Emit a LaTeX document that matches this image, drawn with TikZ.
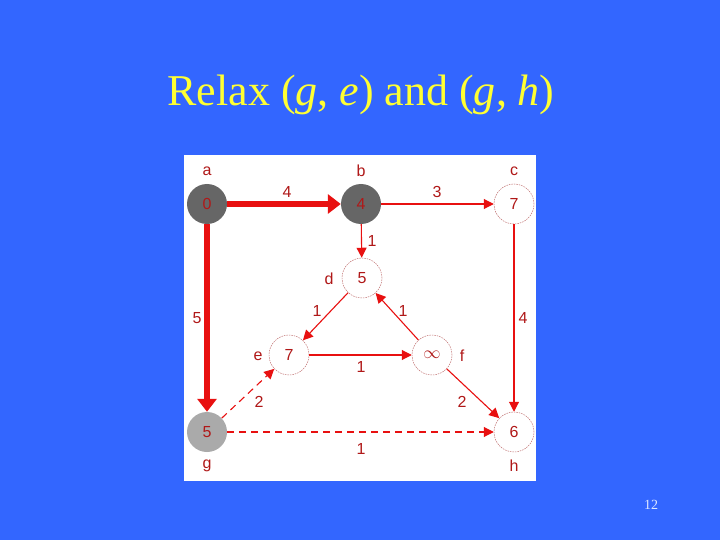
\documentclass[tikz,border=0pt]{standalone}
\usepackage{fontspec}
\setmainfont{Liberation Serif}
\newfontfamily\arial{Liberation Sans}
\usetikzlibrary{arrows.meta}
\definecolor{bgblue}{HTML}{3366FF}
\definecolor{ttl}{HTML}{FFFF33}
\definecolor{edgered}{HTML}{E81010}
\definecolor{txtred}{HTML}{B01818}
\definecolor{darkg}{HTML}{666666}
\definecolor{lightg}{HTML}{AAAAAA}
\definecolor{ringc}{HTML}{C07070}
\tikzset{
  vtx/.style={circle,minimum size=40pt,inner sep=0pt,font=\arial\fontsize{16}{16}\selectfont,text=txtred},
  vopen/.style={vtx,fill=white,draw=ringc,line width=0.5pt,dash pattern=on 1.5pt off 1pt},
  vdark/.style={vtx,fill=darkg},
  vlight/.style={vtx,fill=lightg},
  lbl/.style={font=\arial\fontsize{16}{16}\selectfont,text=txtred,inner sep=0pt},
  thin/.style={draw=edgered,line width=1.1pt,-{Triangle[length=10pt,width=10pt]}},
  thick/.style={draw=edgered,line width=6.5pt,-{Triangle[length=13pt,width=19pt]}},
  dsh/.style={thin,dash pattern=on 7pt off 5pt},
}
\begin{document}
\begin{tikzpicture}[x=1pt,y=-1pt]
\useasboundingbox (0,0) rectangle (720,540);
\fill[bgblue] (0,0) rectangle (720,540);
\node[text=ttl,font=\fontsize{44}{44}\selectfont] (title) at (361,95) {Relax (\textit{g}, \textit{e}) and (\textit{g}, \textit{h})};
\node[text=white!85!bgblue,font=\fontsize{14}{14}\selectfont] (pg) at (651,505) {12};
\fill[white] (184,155) rectangle (536,481);
% vertices
\node[vdark] (a) at (207,204) {0};
\node[vdark] (b) at (361,204) {4};
\node[vopen] (c) at (514,204) {7};
\node[vopen] (d) at (362,278) {5};
\node[vopen] (e) at (289,355) {7};
\node[vopen] (f) at (432,355) {$\infty$};
\node[vlight] (g) at (207,432) {5};
\node[vopen] (h) at (514,432) {6};
% vertex names
\node[lbl] (na) at (207,171) {a};
\node[lbl] (nb) at (361,171) {b};
\node[lbl] (nc) at (514,171) {c};
\node[lbl] (nd) at (329,279) {d};
\node[lbl] (ne) at (258,356) {e};
\node[lbl] (nf) at (462,356) {f};
\node[lbl] (ng) at (207,466) {g};
\node[lbl] (nh) at (514,466) {h};
% edges
\draw[thick] (a) -- (b);
\draw[thick] (a) -- (g);
\draw[thin] (b) -- (c);
\draw[thin] (b) -- (d);
\draw[thin] (c) -- (h);
\draw[thin] (f) -- (d);
\draw[thin] (d) -- (e);
\draw[thin] (e) -- (f);
\draw[thin] (f) -- (h);
\draw[dsh] (g) -- (e);
\draw[dsh] (g) -- (h);
% weights
\node[lbl] (wab) at (287,192) {4};
\node[lbl] (wbc) at (437,192) {3};
\node[lbl] (wbd) at (372,241) {1};
\node[lbl] (wag) at (197,318) {5};
\node[lbl] (wch) at (523,318) {4};
\node[lbl] (wde) at (317,311) {1};
\node[lbl] (wfd) at (403,311) {1};
\node[lbl] (wef) at (361,367) {1};
\node[lbl] (wge) at (259,402) {2};
\node[lbl] (wfh) at (462,402) {2};
\node[lbl] (wgh) at (361,449) {1};
\end{tikzpicture}
\end{document}
